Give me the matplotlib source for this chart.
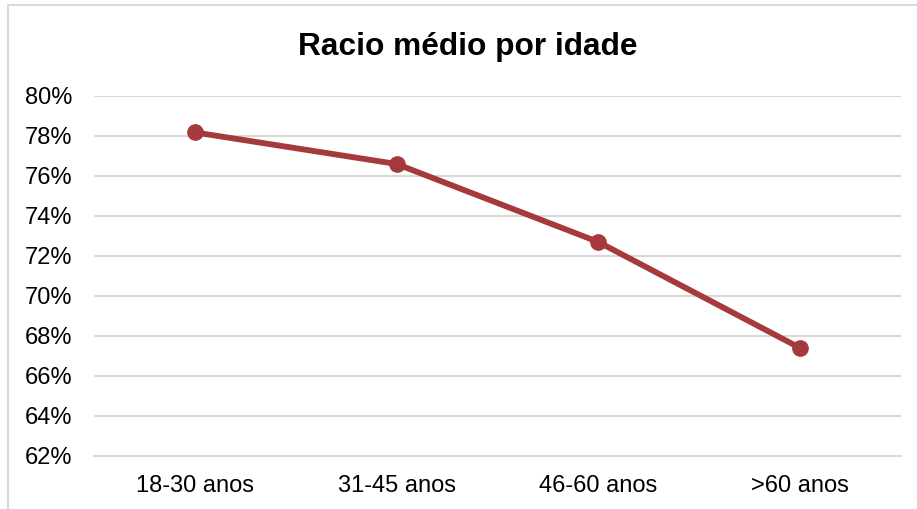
import matplotlib
matplotlib.use('Agg')
import matplotlib.pyplot as plt
from matplotlib.patches import Rectangle
from matplotlib.ticker import FuncFormatter

plt.rcParams['font.family'] = ['Liberation Sans', 'DejaVu Sans']

# Dados
categorias = ['18-30 anos', '31-45 anos', '46-60 anos', '>60 anos']
racio = [78.18, 76.6, 72.7, 67.4]
y_ticks = [62, 64, 66, 68, 70, 72, 74, 76, 78, 80]

W, H = 917, 509
fig = plt.figure(figsize=(W/100, H/100), dpi=100)

# moldura do gráfico (estilo Excel)
fig.patches.append(Rectangle((8/W, -0.1), 1.2, 1 - 5/H + 0.1, transform=fig.transFigure,
                             fill=False, edgecolor='#D9D9D9', linewidth=1.5))

ax = fig.add_axes([94/W, 1 - 456/H, (901-94)/W, (456-96)/H])
x = range(len(categorias))
ax.plot(x, racio, color='#A5393B', linewidth=4.2, marker='o', markersize=11,
        solid_capstyle='round', zorder=3)

ax.set_xlim(-0.5, len(categorias) - 0.5)
ax.set_ylim(62, 80)
ax.set_yticks(y_ticks)
ax.yaxis.set_major_formatter(FuncFormatter(lambda v, p: '%d%%' % v))
ax.set_xticks(list(x))
ax.set_xticklabels(categorias)
ax.grid(axis='y', color='#D9D9D9', linewidth=1.5)
ax.set_axisbelow(True)
for s in ['top', 'right', 'left']:
    ax.spines[s].set_visible(False)
ax.spines['bottom'].set_color('#D9D9D9')
ax.spines['bottom'].set_linewidth(1.5)
ax.tick_params(length=0, labelsize=17, colors='black')
ax.tick_params(axis='y', pad=15.5)
ax.tick_params(axis='x', pad=14)

fig.text(468/W, 1 - 47/H, 'Racio médio por idade', ha='center', va='center',
         fontsize=22.8, fontweight='bold')

fig.savefig('out.png', dpi=100)
